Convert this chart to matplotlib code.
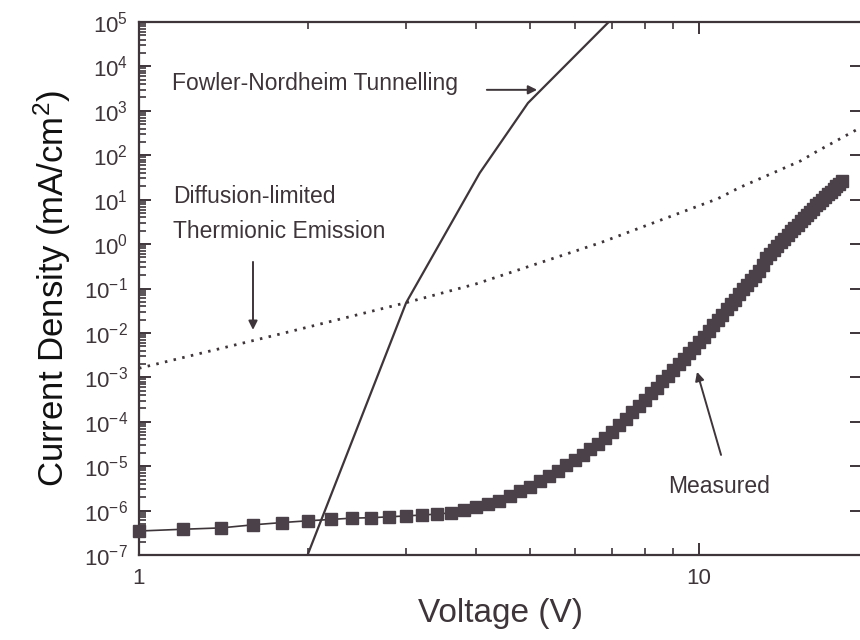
import matplotlib
matplotlib.use("Agg")
import matplotlib.pyplot as plt
import numpy as np
from matplotlib.ticker import FixedLocator, NullFormatter, LogFormatterSciNotation

plt.rcParams['font.family'] = ['Liberation Sans', 'DejaVu Sans']
plt.rcParams['mathtext.fontset'] = 'custom'
plt.rcParams['mathtext.rm'] = 'Liberation Sans'
plt.rcParams['mathtext.it'] = 'Liberation Sans:italic'
plt.rcParams['mathtext.bf'] = 'Liberation Sans:bold'
plt.rcParams['axes.unicode_minus'] = False

# ---------------- data ----------------
measured_V = [1.0, 1.2, 1.4, 1.6, 1.8, 2.0, 2.2, 2.4, 2.6, 2.8,
              3.0, 3.2, 3.4, 3.6, 3.8, 4.0, 4.2, 4.4, 4.6, 4.8,
              5.0, 5.2, 5.4, 5.6, 5.8, 6.0, 6.2, 6.4, 6.6, 6.8,
              7.0, 7.2, 7.4, 7.6, 7.8, 8.0, 8.2, 8.4, 8.6, 8.8,
              9.0, 9.2, 9.4, 9.6, 9.8, 10.0, 10.2, 10.4, 10.6, 10.8,
              11.0, 11.2, 11.4, 11.6, 11.8, 12.0, 12.2, 12.4, 12.6, 12.8,
              13.0, 13.2, 13.4, 13.6, 13.8, 14.0, 14.2, 14.4, 14.6, 14.8,
              15.0, 15.2, 15.4, 15.6, 15.8, 16.0, 16.2, 16.4, 16.6, 16.8,
              17.0, 17.2, 17.4, 17.6, 17.8, 18.0]
measured_log10_J = [-6.46, -6.42, -6.39, -6.32, -6.27, -6.23, -6.20, -6.17, -6.16, -6.14,
                    -6.12, -6.10, -6.08, -6.05, -5.99, -5.93, -5.86, -5.79, -5.67, -5.57,
                    -5.46, -5.34, -5.22, -5.10, -4.98, -4.86, -4.74, -4.61, -4.49, -4.36,
                    -4.22, -4.07, -3.93, -3.78, -3.64, -3.50, -3.36, -3.23, -3.09, -2.96,
                    -2.83, -2.71, -2.58, -2.45, -2.33, -2.21, -2.09, -1.96, -1.83, -1.71,
                    -1.59, -1.47, -1.36, -1.25, -1.13, -1.02, -0.91, -0.81, -0.71, -0.61,
                    -0.47, -0.31, -0.22, -0.13, -0.05, 0.04, 0.12, 0.21, 0.29, 0.37,
                    0.44, 0.52, 0.59, 0.66, 0.73, 0.80, 0.87, 0.93, 1.00, 1.06,
                    1.12, 1.18, 1.24, 1.30, 1.35, 1.41]

fn_V = [2.0, 3.0, 4.06, 4.95, 6.9, 7.3]
fn_J = [1e-7, 0.048, 40.0, 1500.0, 1.0e5, 2.1e5]

te_V = [1.0, 1.79, 3.0, 4.0, 6.65, 10.8, 11.8, 15.2, 16.2, 19.5]
te_J = [1.6e-3, 0.0095, 0.048, 0.127, 1.06, 10.5, 18.6, 75.0, 120.0, 430.0]

x_major_ticks = [1, 10]
x_major_labels = ['1', '10']
x_minor_ticks = [2, 3, 4, 5, 6, 7, 8, 9]
y_exponents = list(range(-7, 6))

ink = '#3d3539'
mark = '#4b4148'

# ---------------- figure ----------------
W, H = 860, 640
fig = plt.figure(figsize=(W / 100, H / 100), dpi=100)
ax_left, ax_right, ax_top, ax_bot = 139, 862, 22, 555
ax = fig.add_axes([ax_left / W, 1 - ax_bot / H, (ax_right - ax_left) / W, (ax_bot - ax_top) / H])
ax.set_xscale('log')
ax.set_yscale('log')
ax.set_xlim(1, 19.55)
ax.set_ylim(1e-7, 1e5)

measured_J = [10 ** v for v in measured_log10_J]
ax.plot(measured_V, measured_J, '-', color=ink, lw=1.2, marker='s', ms=9.2,
        mfc=mark, mec=mark, clip_on=False, zorder=3)
ax.plot(fn_V, fn_J, '-', color=ink, lw=1.6, zorder=2)
ax.plot(te_V, te_J, color=ink, lw=2.0, linestyle=(0, (0.9, 2.3)), zorder=2)

# ticks
ax.xaxis.set_major_locator(FixedLocator(x_major_ticks))
ax.set_xticklabels(x_major_labels)
ax.xaxis.set_minor_locator(FixedLocator(x_minor_ticks))
ax.xaxis.set_minor_formatter(NullFormatter())
ax.yaxis.set_major_locator(FixedLocator([10.0 ** e for e in y_exponents]))
ax.yaxis.set_major_formatter(LogFormatterSciNotation())
y_minor = [m * 10.0 ** e for e in y_exponents[:-1] for m in range(2, 10)]
ax.yaxis.set_minor_locator(FixedLocator(y_minor))
ax.yaxis.set_minor_formatter(NullFormatter())

ax.tick_params(which='both', direction='in', top=True, right=True, color=ink,
               labelcolor=ink, labelsize=16)
ax.tick_params(which='major', length=8.5, width=1.4)
ax.tick_params(which='minor', length=5, width=1.2)
ax.tick_params(axis='y', which='minor', right=False)
ax.tick_params(axis='x', which='major', pad=9)
ax.tick_params(axis='y', which='major', pad=8)
for s in ax.spines.values():
    s.set_color(ink)
    s.set_linewidth(1.6)

ax.set_xlabel('Voltage (V)', fontsize=24, color=ink, labelpad=7)
ax.set_ylabel('Current Density (mA/cm$^2$)', fontsize=25, color='#111111', labelpad=8)

# annotations
tk = dict(fontsize=16.5, color=ink, va='center', ha='left')
ax.text(1.145, 4060, 'Fowler-Nordheim Tunnelling', **tk)
ax.text(1.15, 11.6, 'Diffusion-limited', **tk)
ax.text(1.15, 1.88, 'Thermionic Emission', **tk)
ax.text(8.80, 3.4e-6, 'Measured', **tk)

ap = dict(arrowstyle='-|>', color=ink, lw=1.4, mutation_scale=13, shrinkA=0, shrinkB=0)
ax.annotate('', xy=(5.14, 2970), xytext=(4.18, 2970), arrowprops=ap)
ax.annotate('', xy=(1.598, 0.0117), xytext=(1.598, 0.397), arrowprops=ap)
ax.annotate('', xy=(9.92, 1.33e-3), xytext=(10.95, 1.79e-5), arrowprops=ap)

fig.savefig('out.png', dpi=100)
